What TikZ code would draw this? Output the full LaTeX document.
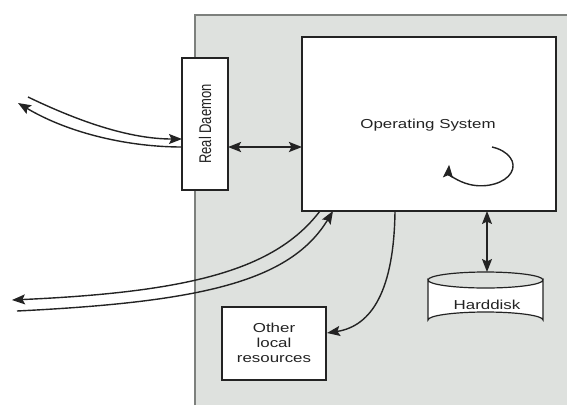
\documentclass[tikz,border=0pt]{standalone}
\usepackage{fontspec}
\setmainfont{Liberation Sans}
\usetikzlibrary{arrows.meta,shapes.geometric}
\definecolor{panelgray}{RGB}{222,225,222}
\definecolor{panelline}{RGB}{125,128,125}
\definecolor{inkgray}{RGB}{35,35,35}
\newcommand{\wtext}[1]{\scalebox{1.3}[1]{#1}}
\begin{document}
\begin{tikzpicture}[x=1pt,y=-1pt,
  box/.style={draw=inkgray,line width=1.2pt,fill=white},
  lbl/.style={inner sep=0pt,font=\fontsize{13}{15}\selectfont,text=inkgray,align=center},
  conn/.style={draw=inkgray,line width=1.4pt},
  head/.style={Stealth[length=13pt,width=10pt,inset=2.5pt]},
  tip/.style={-{Stealth[length=13pt,width=10pt,inset=2.5pt]}},
  tips/.style={{Stealth[length=13pt,width=10pt,inset=2.5pt]}-{Stealth[length=13pt,width=10pt,inset=2.5pt]}}]
\useasboundingbox (0,0) rectangle (567,405);
% host machine panel
\fill[panelgray] (195,15) rectangle (567,405);
\draw[panelline,line width=1.3pt] (195,405) -- (195,15) -- (567,15);
% boxes
\draw[box] (302,37) rectangle (556,211);
\node[lbl] (os) at (428,125) {\wtext{Operating System}};
\draw[box] (182,58) rectangle (228,190);
\node[lbl,rotate=90] (rd) at (205,124) {\scalebox{1}[1.3]{Real Daemon}};
\draw[box] (222,307) rectangle (326,380);
\node[lbl] (other) at (274,343) {\wtext{Other}\\\wtext{local}\\\wtext{resources}};
% harddisk cylinder
\draw[box] (428,280) -- (428,320) arc[start angle=180,end angle=360,x radius=57.5,y radius=8]
  -- (543,280) arc[start angle=0,end angle=180,x radius=57.5,y radius=8] -- cycle;
\draw[inkgray,line width=1.2pt] (428,280) arc[start angle=180,end angle=360,x radius=57.5,y radius=8];
\node[lbl] (hd) at (487,305) {\wtext{Harddisk}};
% anchor points on the box outlines
\coordinate (rdW1) at (182,139);
\coordinate (rdW2) at (182,147);
\coordinate (rdE) at (228,147);
\coordinate (osW) at (302,147);
\coordinate (osS1) at (320,211);
\coordinate (osS2) at (333,211);
\coordinate (osS3) at (395,211);
\coordinate (osS4) at (487,211);
\coordinate (hdN) at (487,272);
\coordinate (otherE) at (327,333);
\coordinate (netA) at (28,97);
\coordinate (netB) at (18,103);
\coordinate (netC) at (12,300);
\coordinate (netD) at (17,311);
% connectors
\draw[conn,tips,line width=2.2pt] (rdE) -- (osW);
\draw[conn,tip] (netA) .. controls (80,122) and (130,139) .. (rdW1);
\draw[conn,tip] (rdW2) .. controls (130,147) and (70,134) .. (netB);
\draw[conn,tip] (osS1) .. controls (275,270) and (190,292) .. (netC);
\draw[conn,tip] (netD) .. controls (200,302) and (290,282) .. (osS2);
\draw[conn,tip] (osS3) .. controls (394,290) and (372,326) .. (otherE);
\draw[conn,tips,line width=1.6pt] (osS4) -- (hdN);
% internal activity loop
\draw[conn,tip] (492,147) arc[start angle=-70,end angle=183,x radius=32,y radius=20];
\end{tikzpicture}
\end{document}
